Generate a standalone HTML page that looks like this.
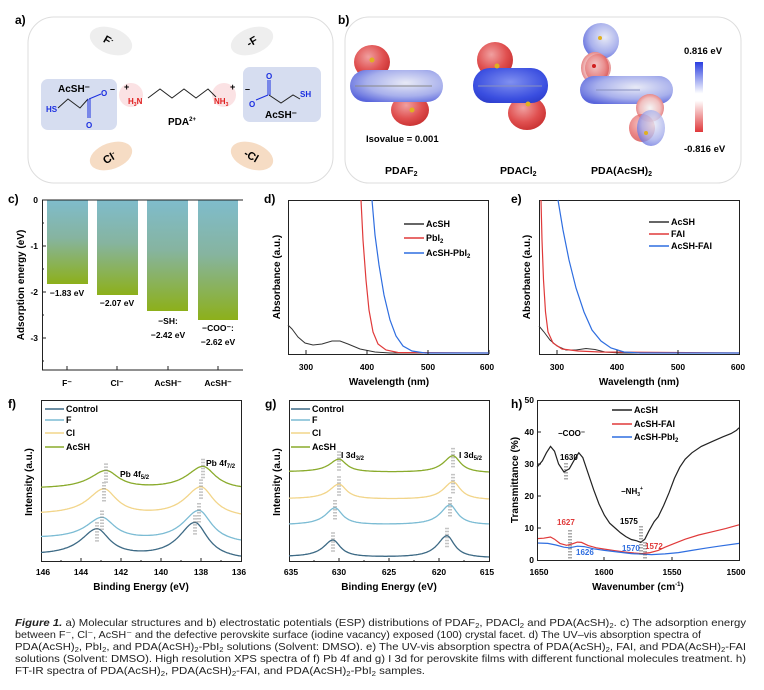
<!DOCTYPE html>
<html><head><meta charset="utf-8"><style>
html,body{margin:0;padding:0;background:#fff;}
svg{display:block;font-family:"Liberation Sans",sans-serif;}
.b{font-weight:bold;}
</style></head><body>
<svg id="s" width="764" height="690" viewBox="0 0 764 690" xmlns="http://www.w3.org/2000/svg">
<defs>
<linearGradient id="bar" x1="0" y1="0" x2="0" y2="1">
<stop offset="0" stop-color="#7fbccc"/><stop offset="0.45" stop-color="#86b4a0"/><stop offset="1" stop-color="#8db01a"/></linearGradient>
<linearGradient id="cbar" x1="0" y1="0" x2="0" y2="1">
<stop offset="0" stop-color="#2a3ee0"/><stop offset="0.45" stop-color="#ffffff"/><stop offset="0.55" stop-color="#ffffff"/><stop offset="1" stop-color="#e0383a"/></linearGradient>
<radialGradient id="red" cx="0.4" cy="0.35" r="0.7"><stop offset="0" stop-color="#f0a0a0"/><stop offset="0.6" stop-color="#e05050"/><stop offset="1" stop-color="#c83030"/></radialGradient>
<radialGradient id="blue" cx="0.5" cy="0.4" r="0.7"><stop offset="0" stop-color="#8090f0"/><stop offset="0.7" stop-color="#3a4ee0"/><stop offset="1" stop-color="#2a3ac8"/></radialGradient>
<radialGradient id="bw" cx="0.6" cy="0.4" r="0.7"><stop offset="0" stop-color="#e8eaf6"/><stop offset="0.6" stop-color="#a8b0ec"/><stop offset="1" stop-color="#5a66dc"/></radialGradient>
<radialGradient id="rw" cx="0.5" cy="0.5" r="0.6"><stop offset="0" stop-color="#f4f4f4"/><stop offset="0.6" stop-color="#f0c0c0"/><stop offset="1" stop-color="#e06060"/></radialGradient>
</defs>

<!-- Panel a -->
<text x="15" y="24" class="b" font-size="12">a)</text>
<rect x="28" y="17" width="305" height="166" rx="26" fill="#fff" stroke="#ddd" stroke-width="1"/>
<ellipse cx="111" cy="41" rx="22" ry="13" fill="#eeeeee" transform="rotate(20 111 41)"/>
<ellipse cx="252" cy="41" rx="22" ry="13" fill="#eeeeee" transform="rotate(-20 252 41)"/>
<ellipse cx="111" cy="156" rx="22" ry="13" fill="#f6dcc4" transform="rotate(-20 111 156)"/>
<ellipse cx="252" cy="156" rx="22" ry="13" fill="#f6dcc4" transform="rotate(20 252 156)"/>
<text x="104" y="44" font-size="11" class="b" transform="rotate(30 108 40)">F<tspan font-size="7" dy="-4">-</tspan></text>
<text x="246" y="45" font-size="11" class="b" transform="rotate(-30 252 40)">-F</text>
<text x="102" y="161" font-size="11" class="b" transform="rotate(-30 110 156)">Cl<tspan font-size="7" dy="-4">-</tspan></text>
<text x="244" y="160" font-size="11" class="b" transform="rotate(30 252 156)">-Cl</text>
<rect x="41" y="79" width="76" height="51" rx="7" fill="#d6ddf0"/>
<rect x="243" y="67" width="78" height="55" rx="7" fill="#d6ddf0"/>
<circle cx="131" cy="95" r="12" fill="#fbe2e4"/>
<circle cx="224" cy="95" r="12" fill="#fbe2e4"/>
<text x="58" y="92" font-size="10" class="b">AcSH⁻</text>
<text x="46" y="112" font-size="8" class="b" fill="#1a2ee0">HS</text>
<polyline points="58,108 68,99 80,108 88,99" fill="none" stroke="#222" stroke-width="1"/>
<line x1="88" y1="99" x2="88" y2="118" stroke="#1a2ee0" stroke-width="1"/>
<line x1="90" y1="99" x2="90" y2="118" stroke="#1a2ee0" stroke-width="1"/>
<text x="86" y="128" font-size="8" class="b" fill="#1a2ee0">O</text>
<line x1="89" y1="99" x2="101" y2="94" stroke="#1a2ee0" stroke-width="1"/>
<text x="101" y="96" font-size="8" class="b" fill="#1a2ee0">O</text>
<text x="110" y="92" font-size="9" class="b">–</text>
<text x="124" y="90" font-size="9" class="b">+</text>
<text x="128" y="104" font-size="8" class="b" fill="#e02020">H<tspan font-size="5" dy="2">3</tspan><tspan dy="-2">N</tspan></text>
<polyline points="148,98 160,89 172,98 184,89 196,98 208,89 216,97" fill="none" stroke="#222" stroke-width="1"/>
<text x="214" y="104" font-size="8" class="b" fill="#e02020">NH<tspan font-size="5" dy="2">3</tspan></text>
<text x="230" y="90" font-size="9" class="b">+</text>
<text x="245" y="92" font-size="9" class="b">–</text>
<text x="168" y="125" font-size="10" class="b">PDA<tspan font-size="6" dy="-4">2+</tspan></text>
<text x="249" y="107" font-size="8" class="b" fill="#1a2ee0">O</text>
<line x1="256" y1="100" x2="268" y2="95" stroke="#1a2ee0" stroke-width="1"/>
<line x1="268" y1="95" x2="268" y2="80" stroke="#1a2ee0" stroke-width="1"/>
<line x1="270" y1="95" x2="270" y2="80" stroke="#1a2ee0" stroke-width="1"/>
<text x="266" y="79" font-size="8" class="b" fill="#1a2ee0">O</text>
<polyline points="269,95 281,103 293,95 300,99" fill="none" stroke="#222" stroke-width="1"/>
<text x="300" y="97" font-size="8" class="b" fill="#1a2ee0">SH</text>
<text x="265" y="118" font-size="10" class="b">AcSH⁻</text>

<!-- Panel b -->
<text x="338" y="24" class="b" font-size="12">b)</text>
<rect x="345" y="17" width="396" height="166" rx="24" fill="#fff" stroke="#ddd" stroke-width="1"/>
<!-- PDAF2 -->
<ellipse cx="372" cy="62" rx="18" ry="17" fill="url(#red)"/>
<ellipse cx="410" cy="110" rx="19" ry="16" fill="url(#red)"/>
<rect x="350" y="70" width="93" height="32" rx="16" fill="url(#bw)"/>
<line x1="355" y1="86" x2="432" y2="86" stroke="#888" stroke-width="1"/>
<circle cx="372" cy="60" r="2.5" fill="#e0b020"/><circle cx="412" cy="110" r="2.5" fill="#e0b020"/>
<!-- PDACl2 -->
<ellipse cx="495" cy="60" rx="18" ry="18" fill="url(#red)"/>
<ellipse cx="527" cy="113" rx="19" ry="17" fill="url(#red)"/>
<rect x="473" y="68" width="75" height="35" rx="17" fill="url(#blue)"/>
<line x1="478" y1="86" x2="542" y2="86" stroke="#8890c0" stroke-width="1"/>
<circle cx="497" cy="66" r="2.5" fill="#e0b020"/><circle cx="528" cy="104" r="2.5" fill="#e0b020"/>
<!-- PDA(AcSH)2 -->
<ellipse cx="601" cy="41" rx="18" ry="18" fill="url(#bw)"/>
<ellipse cx="595" cy="68" rx="14" ry="16" fill="url(#rw)"/>
<ellipse cx="598" cy="68" rx="13" ry="14" fill="url(#red)" opacity="0.5"/>
<rect x="580" y="76" width="93" height="28" rx="14" fill="url(#bw)"/>
<ellipse cx="650" cy="108" rx="14" ry="14" fill="url(#rw)"/>
<ellipse cx="642" cy="128" rx="13" ry="14" fill="url(#red)" opacity="0.7"/>
<ellipse cx="651" cy="128" rx="14" ry="18" fill="url(#bw)" opacity="0.8"/>
<line x1="596" y1="90" x2="640" y2="90" stroke="#8890c0" stroke-width="1"/>
<circle cx="600" cy="38" r="2" fill="#e0b020"/><circle cx="594" cy="66" r="2" fill="#d02020"/><circle cx="646" cy="133" r="2" fill="#e0b020"/>
<rect x="695" y="62" width="8" height="70" fill="url(#cbar)"/>
<text x="684" y="54" font-size="9.5" class="b">0.816 eV</text>
<text x="684" y="152" font-size="9.5" class="b">-0.816 eV</text>
<text x="366" y="142" font-size="9.5" class="b">Isovalue = 0.001</text>
<text x="385" y="174" font-size="10.5" class="b">PDAF<tspan font-size="7" dy="2">2</tspan></text>
<text x="500" y="174" font-size="10.5" class="b">PDACl<tspan font-size="7" dy="2">2</tspan></text>
<text x="591" y="174" font-size="10.5" class="b">PDA(AcSH)<tspan font-size="7" dy="2">2</tspan></text>

<!-- Panel c -->
<text x="8" y="203" class="b" font-size="12">c)</text>
<rect x="47" y="200" width="41" height="84" fill="url(#bar)"/>
<rect x="97" y="200" width="41" height="95" fill="url(#bar)"/>
<rect x="147" y="200" width="41" height="111" fill="url(#bar)"/>
<rect x="198" y="200" width="40" height="120" fill="url(#bar)"/>
<g stroke="#222" stroke-width="1" fill="none">
<line x1="42" y1="200" x2="243" y2="200"/>
<line x1="42.5" y1="200" x2="42.5" y2="370"/>
<line x1="42" y1="370" x2="243" y2="370"/>
</g>
<g stroke="#222" stroke-width="1">
<line x1="42" y1="246" x2="46" y2="246"/><line x1="42" y1="292" x2="46" y2="292"/><line x1="42" y1="338" x2="46" y2="338"/>
<line x1="42" y1="223" x2="44" y2="223"/><line x1="42" y1="269" x2="44" y2="269"/><line x1="42" y1="315" x2="44" y2="315"/><line x1="42" y1="361" x2="44" y2="361"/>
<line x1="67" y1="370" x2="67" y2="366"/><line x1="117" y1="370" x2="117" y2="366"/><line x1="168" y1="370" x2="168" y2="366"/><line x1="218" y1="370" x2="218" y2="366"/>
</g>
<g font-size="8.5" class="b" text-anchor="end">
<text x="38" y="203">0</text><text x="38" y="249">-1</text><text x="38" y="295">-2</text><text x="38" y="341">-3</text></g>
<g font-size="8.5" class="b" text-anchor="middle">
<text x="67" y="386">F⁻</text><text x="117" y="386">Cl⁻</text><text x="168" y="386">AcSH⁻</text><text x="218" y="386">AcSH⁻</text>
<text x="67" y="296">−1.83 eV</text><text x="117" y="306">−2.07 eV</text>
<text x="168" y="324">−SH:</text><text x="168" y="338">−2.42 eV</text>
<text x="218" y="331">−COO⁻:</text><text x="218" y="345">−2.62 eV</text></g>
<text transform="translate(24,285) rotate(-90)" font-size="10" class="b" text-anchor="middle">Adsorption energy (eV)</text>

<!-- Panel d -->
<text x="264" y="203" class="b" font-size="12">d)</text>
<rect x="288.5" y="200.5" width="200" height="154" fill="none" stroke="#222"/>
<polyline fill="none" stroke="#333" stroke-width="1" points="288,325 292,329 298,337 305,343 313,345 322,344 332,341 340,341 348,344 360,349 375,352 390,353 489,353"/>
<polyline fill="none" stroke="#e03a3a" stroke-width="1.2" points="361,200 363,240 366,280 369,310 373,332 378,344 386,350 398,352.5 489,353"/>
<polyline fill="none" stroke="#2f6ee0" stroke-width="1.2" points="372,200 375,235 379,265 384,295 390,320 396,336 403,346 412,351 425,353 489,353"/>
<g stroke="#222"><line x1="306" y1="354" x2="306" y2="350"/><line x1="367" y1="354" x2="367" y2="350"/><line x1="428" y1="354" x2="428" y2="350"/><line x1="489" y1="354" x2="489" y2="350"/></g>
<g font-size="8.5" class="b" text-anchor="middle"><text x="306" y="370">300</text><text x="367" y="370">400</text><text x="428" y="370">500</text><text x="487" y="370">600</text></g>
<text x="389" y="385" font-size="10" class="b" text-anchor="middle">Wavelength (nm)</text>
<text transform="translate(280,277) rotate(-90)" font-size="10" class="b" text-anchor="middle">Absorbance (a.u.)</text>
<line x1="404" y1="224" x2="424" y2="224" stroke="#333" stroke-width="1.5"/>
<line x1="404" y1="238" x2="424" y2="238" stroke="#e03a3a" stroke-width="1.5"/>
<line x1="404" y1="253" x2="424" y2="253" stroke="#2f6ee0" stroke-width="1.5"/>
<g font-size="9" class="b"><text x="426" y="227">AcSH</text><text x="426" y="241">PbI<tspan font-size="6" dy="2">2</tspan></text><text x="426" y="256">AcSH-PbI<tspan font-size="6" dy="2">2</tspan></text></g>

<!-- Panel e -->
<text x="511" y="203" class="b" font-size="12">e)</text>
<rect x="539.5" y="200.5" width="200" height="154" fill="none" stroke="#222"/>
<polyline fill="none" stroke="#333" stroke-width="1" points="539,326 544,332 550,340 557,346 566,350 576,350 586,348.5 595,349.5 605,352 620,353 739,353"/>
<polyline fill="none" stroke="#e03a3a" stroke-width="1.2" points="541,200 542,240 543.5,280 545.5,312 548,332 553,343 562,349 578,351 600,352 739,353"/>
<polyline fill="none" stroke="#2f6ee0" stroke-width="1.2" points="558,200 563,230 569,260 576,288 584,312 592,330 601,341 611,348 624,352 640,353 739,353"/>
<g stroke="#222"><line x1="557" y1="354" x2="557" y2="350"/><line x1="617" y1="354" x2="617" y2="350"/><line x1="678" y1="354" x2="678" y2="350"/></g>
<g font-size="8.5" class="b" text-anchor="middle"><text x="557" y="370">300</text><text x="617" y="370">400</text><text x="678" y="370">500</text><text x="738" y="370">600</text></g>
<text x="639" y="385" font-size="10" class="b" text-anchor="middle">Wavelength (nm)</text>
<text transform="translate(530,277) rotate(-90)" font-size="10" class="b" text-anchor="middle">Absorbance (a.u.)</text>
<line x1="649" y1="222" x2="669" y2="222" stroke="#333" stroke-width="1.5"/>
<line x1="649" y1="234" x2="669" y2="234" stroke="#e03a3a" stroke-width="1.5"/>
<line x1="649" y1="246" x2="669" y2="246" stroke="#2f6ee0" stroke-width="1.5"/>
<g font-size="9" class="b"><text x="671" y="225">AcSH</text><text x="671" y="237">FAI</text><text x="671" y="249">AcSH-FAI</text></g>

<!-- Panel f -->
<text x="8" y="408" class="b" font-size="12">f)</text>
<rect x="41.5" y="400.5" width="200" height="161" fill="none" stroke="#222"/>
<g id="fcurves"></g>
<g stroke="#222"><line x1="81" y1="562" x2="81" y2="558"/><line x1="121" y1="562" x2="121" y2="558"/><line x1="161" y1="562" x2="161" y2="558"/><line x1="201" y1="562" x2="201" y2="558"/>
<line x1="61" y1="562" x2="61" y2="560"/><line x1="101" y1="562" x2="101" y2="560"/><line x1="141" y1="562" x2="141" y2="560"/><line x1="181" y1="562" x2="181" y2="560"/><line x1="221" y1="562" x2="221" y2="560"/></g>
<g font-size="8.5" class="b" text-anchor="middle"><text x="43" y="575">146</text><text x="81" y="575">144</text><text x="121" y="575">142</text><text x="161" y="575">140</text><text x="201" y="575">138</text><text x="239" y="575">136</text></g>
<text x="141" y="590" font-size="10" class="b" text-anchor="middle">Binding Energy (eV)</text>
<text transform="translate(32,482) rotate(-90)" font-size="10" class="b" text-anchor="middle">Intensity (a.u.)</text>
<line x1="45" y1="409" x2="64" y2="409" stroke="#3d6a85" stroke-width="1.5"/>
<line x1="45" y1="420" x2="64" y2="420" stroke="#7cbcd4" stroke-width="1.5"/>
<line x1="45" y1="433" x2="64" y2="433" stroke="#f2d58a" stroke-width="1.5"/>
<line x1="45" y1="447" x2="64" y2="447" stroke="#8aab2c" stroke-width="1.5"/>
<g font-size="9" class="b"><text x="66" y="412">Control</text><text x="66" y="423">F</text><text x="66" y="436">Cl</text><text x="66" y="450">AcSH</text></g>
<text x="120" y="477" font-size="8.5" class="b">Pb 4f<tspan font-size="6" dy="2">5/2</tspan></text>
<text x="206" y="466" font-size="8.5" class="b">Pb 4f<tspan font-size="6" dy="2">7/2</tspan></text>

<!-- Panel g -->
<text x="265" y="408" class="b" font-size="12">g)</text>
<rect x="289.5" y="400.5" width="200" height="161" fill="none" stroke="#222"/>
<g id="gcurves"></g>
<g stroke="#222"><line x1="339" y1="562" x2="339" y2="558"/><line x1="389" y1="562" x2="389" y2="558"/><line x1="439" y1="562" x2="439" y2="558"/>
<line x1="314" y1="562" x2="314" y2="560"/><line x1="364" y1="562" x2="364" y2="560"/><line x1="414" y1="562" x2="414" y2="560"/><line x1="464" y1="562" x2="464" y2="560"/></g>
<g font-size="8.5" class="b" text-anchor="middle"><text x="291" y="575">635</text><text x="339" y="575">630</text><text x="389" y="575">625</text><text x="439" y="575">620</text><text x="487" y="575">615</text></g>
<text x="389" y="590" font-size="10" class="b" text-anchor="middle">Binding Energy (eV)</text>
<text transform="translate(280,482) rotate(-90)" font-size="10" class="b" text-anchor="middle">Intensity (a.u.)</text>
<line x1="291" y1="409" x2="310" y2="409" stroke="#3d6a85" stroke-width="1.5"/>
<line x1="291" y1="420" x2="310" y2="420" stroke="#7cbcd4" stroke-width="1.5"/>
<line x1="291" y1="433" x2="310" y2="433" stroke="#f2d58a" stroke-width="1.5"/>
<line x1="291" y1="447" x2="310" y2="447" stroke="#8aab2c" stroke-width="1.5"/>
<g font-size="9" class="b"><text x="312" y="412">Control</text><text x="312" y="423">F</text><text x="312" y="436">Cl</text><text x="312" y="450">AcSH</text></g>
<text x="341" y="458" font-size="8.5" class="b">I 3d<tspan font-size="6" dy="2">3/2</tspan></text>
<text x="459" y="458" font-size="8.5" class="b">I 3d<tspan font-size="6" dy="2">5/2</tspan></text>

<!-- Panel h -->
<text x="511" y="408" class="b" font-size="12">h)</text>
<g id="hcurves"></g>
<rect x="537.5" y="400.5" width="202" height="160" fill="none" stroke="#222"/>
<g stroke="#222"><line x1="537" y1="432" x2="541" y2="432"/><line x1="537" y1="464" x2="541" y2="464"/><line x1="537" y1="496" x2="541" y2="496"/><line x1="537" y1="528" x2="541" y2="528"/>
<line x1="604" y1="561" x2="604" y2="557"/><line x1="672" y1="561" x2="672" y2="557"/></g>
<g font-size="8.5" class="b" text-anchor="end"><text x="534" y="403">50</text><text x="534" y="435">40</text><text x="534" y="467">30</text><text x="534" y="499">20</text><text x="534" y="531">10</text><text x="534" y="563">0</text></g>
<g font-size="8.5" class="b" text-anchor="middle"><text x="539" y="575">1650</text><text x="604" y="575">1600</text><text x="672" y="575">1550</text><text x="736" y="575">1500</text></g>
<text x="638" y="590" font-size="10" class="b" text-anchor="middle">Wavenumber (cm<tspan font-size="6" dy="-4">-1</tspan><tspan dy="4">)</tspan></text>
<text transform="translate(518,480) rotate(-90)" font-size="10" class="b" text-anchor="middle">Transmittance (%)</text>
<line x1="612" y1="410" x2="632" y2="410" stroke="#222" stroke-width="1.5"/>
<line x1="612" y1="424" x2="632" y2="424" stroke="#e03a3a" stroke-width="1.5"/>
<line x1="612" y1="437" x2="632" y2="437" stroke="#2f6ee0" stroke-width="1.5"/>
<g font-size="9" class="b"><text x="634" y="413">AcSH</text><text x="634" y="427">AcSH-FAI</text><text x="634" y="440">AcSH-PbI<tspan font-size="6" dy="2">2</tspan></text></g>
<g font-size="8" class="b">
<text x="558" y="436">−COO⁻</text>
<text x="560" y="460">1630</text>
<text x="621" y="494">−NH<tspan font-size="5" dy="2">3</tspan><tspan font-size="5" dy="-6">+</tspan></text>
<text x="620" y="524">1575</text>
<text x="557" y="525" fill="#e03a3a">1627</text>
<text x="576" y="555" fill="#2f6ee0">1626</text>
<text x="622" y="551" fill="#2f6ee0">1570</text>
<text x="645" y="549" fill="#e03a3a">1572</text>
</g>
<g stroke="#555" stroke-dasharray="1.5,1.5" stroke-width="1">
<line x1="565" y1="463" x2="565" y2="481"/><line x1="567" y1="463" x2="567" y2="481"/>
<line x1="569" y1="530" x2="569" y2="559"/><line x1="571" y1="530" x2="571" y2="559"/>
<line x1="640" y1="526" x2="640" y2="555"/><line x1="642" y1="526" x2="642" y2="555"/>
<line x1="644" y1="542" x2="644" y2="560"/><line x1="646" y1="542" x2="646" y2="560"/>
</g>

<!-- caption -->
<g font-size="10.3" fill="#222">
<text x="15" y="626" textLength="731" lengthAdjust="spacingAndGlyphs"><tspan font-style="italic" font-weight="bold">Figure 1.</tspan> a) Molecular structures and b) electrostatic potentials (ESP) distributions of PDAF<tspan font-size="7" dy="2">2</tspan><tspan dy="-2">, PDACl</tspan><tspan font-size="7" dy="2">2</tspan><tspan dy="-2"> and PDA(AcSH)</tspan><tspan font-size="7" dy="2">2</tspan><tspan dy="-2">. c) The adsorption energy</tspan></text>
<text x="15" y="638" textLength="686" lengthAdjust="spacingAndGlyphs">between F⁻, Cl⁻, AcSH⁻ and the defective perovskite surface (iodine vacancy) exposed (100) crystal facet. d) The UV–vis absorption spectra of</text>
<text x="15" y="650" textLength="731" lengthAdjust="spacingAndGlyphs">PDA(AcSH)<tspan font-size="7" dy="2">2</tspan><tspan dy="-2">, PbI</tspan><tspan font-size="7" dy="2">2</tspan><tspan dy="-2">, and PDA(AcSH)</tspan><tspan font-size="7" dy="2">2</tspan><tspan dy="-2">-PbI</tspan><tspan font-size="7" dy="2">2</tspan><tspan dy="-2"> solutions (Solvent: DMSO). e) The UV-vis absorption spectra of PDA(AcSH)</tspan><tspan font-size="7" dy="2">2</tspan><tspan dy="-2">, FAI, and PDA(AcSH)</tspan><tspan font-size="7" dy="2">2</tspan><tspan dy="-2">-FAI</tspan></text>
<text x="15" y="662" textLength="731" lengthAdjust="spacingAndGlyphs">solutions (Solvent: DMSO). High resolution XPS spectra of f) Pb 4f and g) I 3d for perovskite films with different functional molecules treatment. h)</text>
<text x="15" y="674" textLength="410" lengthAdjust="spacingAndGlyphs">FT-IR spectra of PDA(AcSH)<tspan font-size="7" dy="2">2</tspan><tspan dy="-2">, PDA(AcSH)</tspan><tspan font-size="7" dy="2">2</tspan><tspan dy="-2">-FAI, and PDA(AcSH)</tspan><tspan font-size="7" dy="2">2</tspan><tspan dy="-2">-PbI</tspan><tspan font-size="7" dy="2">2</tspan><tspan dy="-2"> samples.</tspan></text>
</g>
</svg>
<script>
(function(){
var NS="http://www.w3.org/2000/svg";
function add(gid,d,col,w,dash){var p=document.createElementNS(NS,"path");p.setAttribute("d",d);p.setAttribute("fill","none");p.setAttribute("stroke",col);p.setAttribute("stroke-width",w||1.3);if(dash)p.setAttribute("stroke-dasharray",dash);document.getElementById(gid).appendChild(p);}
function xps(gid,e0,e1,px0,scale,base0,base1,peaks,w,col){
 var d="";for(var i=0;i<=200;i++){var E=e0-(e0-e1)*i/200;var x=px0+(e0-E)*scale;var b=base0+(base1-base0)*i/200;var y=b;
 peaks.forEach(function(p){var t=(E-p[0])/w;var a=E>p[0]?1.15:0.9;y-=p[1]/(1+t*t/(a*a));});
 d+=(i?"L":"M")+x.toFixed(1)+","+y.toFixed(1);}
 add(gid,d,col,1.3);
 peaks.forEach(function(p){var x=px0+(e0-p[0])*scale;var b=base0+(base1-base0)*(e0-p[0])/(e0-e1);var top=b-p[1];
  add(gid,"M"+(x-1)+","+(top-8)+"L"+(x-1)+","+(top+12)+"M"+(x+1)+","+(top-8)+"L"+(x+1)+","+(top+12),"#888",1,"1.5,1.5");});
}
xps("fcurves",146,136,41,20,556,560,[[143.2,27],[138.3,36]],0.85,"#3d6a85");
xps("fcurves",146,136,41,20,539,544,[[142.95,22],[138.1,32]],0.85,"#7cbcd4");
xps("fcurves",146,136,41,20,515,518,[[142.85,26],[138.0,30]],0.85,"#f2d58a");
xps("fcurves",146,136,41,20,489,490,[[142.75,18],[137.9,23]],0.85,"#8aab2c");
xps("gcurves",635,615,289,10,557,558,[[630.6,17],[619.2,22]],1.0,"#3d6a85");
xps("gcurves",635,615,289,10,525,525,[[630.4,17],[618.9,20]],1.0,"#7cbcd4");
xps("gcurves",635,615,289,10,499,500,[[630.0,15],[618.6,18]],1.0,"#f2d58a");
xps("gcurves",635,615,289,10,472,473,[[630.0,13],[618.6,17]],1.0,"#8aab2c");
function h(pts,col){var d="";pts.forEach(function(p,i){var x=537+(1650-p[0])*1.347;var y=560-p[1]*3.2;d+=(i?"L":"M")+x.toFixed(1)+","+y.toFixed(1);});add("hcurves",d,col,1.2);}
h([[1650,29],[1646,31],[1643,33.5],[1640,35.5],[1637,34],[1634,30],[1630,27.5],[1626,28.5],[1622,31.5],[1619,33.5],[1616,32],[1612,27],[1608,22],[1604,17.5],[1600,14],[1596,11.5],[1592,10],[1588,8.5],[1584,7.3],[1580,6.4],[1576,6],[1573,5.5],[1570,6.5],[1567,9],[1563,12],[1560,13.5],[1556,17],[1552,21],[1548,25.5],[1544,29],[1540,31.5],[1535,33.5],[1528,35.5],[1520,37],[1512,38.5],[1506,39.5],[1502,40.5],[1500,41.3]],"#222");
h([[1650,6.7],[1645,6.8],[1640,7.2],[1637,6.5],[1633,5.2],[1628,4.6],[1624,5],[1620,5.6],[1617,5.5],[1612,4.5],[1606,3.8],[1600,3.4],[1592,2.9],[1585,2.5],[1578,2.2],[1572,2],[1566,2.3],[1560,3],[1555,4],[1548,5.2],[1540,6.5],[1530,7.8],[1520,8.8],[1510,9.8],[1500,11]],"#e03a3a");
h([[1650,5.3],[1642,5.2],[1636,4.7],[1630,4],[1626,3.8],[1620,4.3],[1615,4.2],[1608,3.5],[1600,3],[1590,2.5],[1580,2],[1572,1.8],[1565,1.7],[1555,1.9],[1545,2.3],[1535,3],[1525,3.7],[1515,4.3],[1500,5.2]],"#2f6ee0");
})();
</script>
</body></html>
